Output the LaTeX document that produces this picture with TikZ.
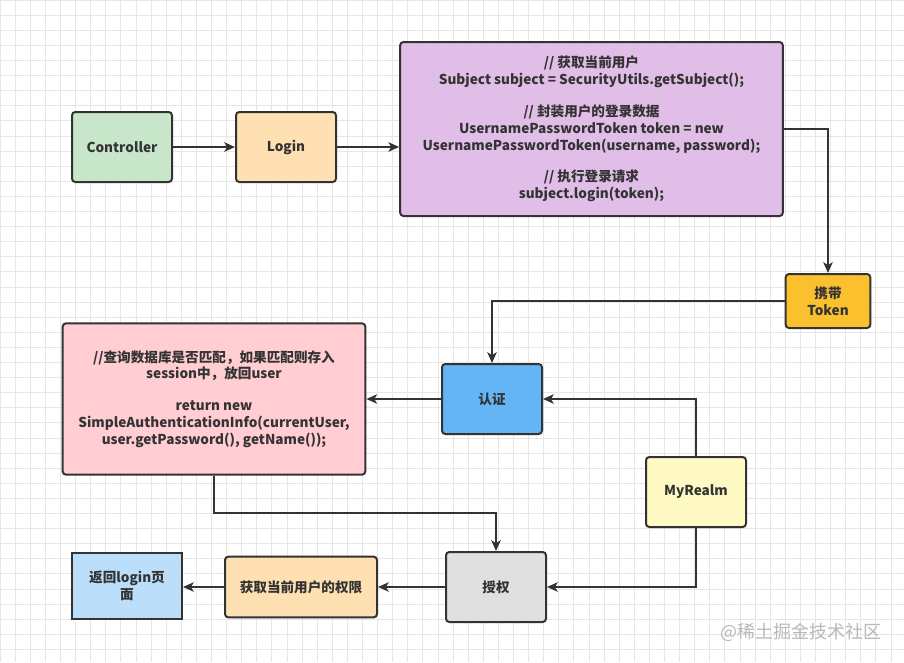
\documentclass[tikz,border=0pt]{standalone}
\usepackage{fontspec}
\setmainfont{Noto Sans CJK SC}
\usetikzlibrary{arrows.meta,calc}
\definecolor{ink}{HTML}{333333}
\definecolor{gridc}{HTML}{E6E6E6}
\definecolor{cgreen}{HTML}{C8E6C9}
\definecolor{corange}{HTML}{FFE0B2}
\definecolor{cpurple}{HTML}{E1BEE7}
\definecolor{cyellow}{HTML}{FBC02D}
\definecolor{cblue}{HTML}{64B5F6}
\definecolor{cpink}{HTML}{FFCDD2}
\definecolor{clight}{HTML}{FFF9C4}
\definecolor{cgray}{HTML}{E0E0E0}
\definecolor{cpale}{HTML}{BBDEFB}
\tikzset{
  box/.style={draw=ink, line width=1.5pt, rounded corners=2.5pt, text=ink,
    font=\fontsize{10.2}{12.6}\selectfont\bfseries, align=center, inner sep=0pt},
  conn/.style={draw=ink, line width=1.4pt, -{Stealth[length=8pt,width=7pt,inset=2pt]}},
}
\begin{document}
\begin{tikzpicture}[x=0.75pt,y=-0.75pt]
\useasboundingbox (0,0) rectangle (904,662);
\fill[white] (0,0) rectangle (904,662);
\foreach \i in {0,...,60} {\draw[gridc, line width=0.6pt] (\i*15.1,0) -- (\i*15.1,662);}
\foreach \j in {0,...,44} {\draw[gridc, line width=0.6pt] (0,\j*15.1) -- (904,\j*15.1);}

\node[box, fill=cgreen, minimum width=75pt, minimum height=52.5pt] (ctrl) at (122,147) {Controller};
\node[box, fill=corange, minimum width=75pt, minimum height=52.5pt] (login) at (286,147) {Login};
\node[box, fill=cpurple, minimum width=287pt, minimum height=130.5pt] (purple) at (591.5,129) {%
// 获取当前用户\\
Subject subject = SecurityUtils.getSubject();\\[11.2pt]
// 封装用户的登录数据\\
UsernamePasswordToken token = new\\
UsernamePasswordToken(username, password);\\[11.2pt]
// 执行登录请求\\
subject.login(token);};
\node[box, fill=cyellow, minimum width=63.5pt, minimum height=40.5pt] (token) at (828,301) {携带\\Token};
\node[box, fill=cblue, minimum width=75pt, minimum height=52.5pt] (auth) at (492,399) {认证};
\node[box, fill=cpink, minimum width=227pt, minimum height=113.5pt] (pink) at (214,399) {%
//查询数据库是否匹配，如果匹配则存入\\
session中，放回user\\[11.2pt]
return new\\
SimpleAuthenticationInfo(currentUser,\\
user.getPassword(), getName());};
\node[box, fill=clight, minimum width=75pt, minimum height=52.5pt] (realm) at (696,492) {MyRealm};
\node[box, fill=cgray, minimum width=75pt, minimum height=52.5pt] (sq) at (496,587) {授权};
\node[box, fill=corange, minimum width=114pt, minimum height=45.5pt] (perm) at (301,587) {获取当前用户的权限};
\node[box, fill=cpale, rounded corners=0pt, minimum width=82.5pt, minimum height=49pt] (ret) at (127,586) {返回login页\\面};

\coordinate (mid) at (0,513);

\draw[conn] (ctrl) -- (login);
\draw[conn] (login.east) -- (login.east -| purple.west);
\draw[conn] (purple.east) -| (token.north);
\draw[conn] (token.west) -| (auth.north);
\draw[conn] (realm.north) |- (auth.east);
\draw[conn] (auth.west) -- (auth.west -| pink.east);
\draw[conn] (pink.south) -- (pink.south |- mid) -| (sq.north);
\draw[conn] (realm.south) |- (sq.east);
\draw[conn] (sq) -- (perm);
\draw[conn] (perm.west) -- (perm.west -| ret.east);

\node[text=black!28, font=\fontsize{13.5}{15}\selectfont, anchor=east] (wm) at (886,632) {@稀土掘金技术社区};
\end{tikzpicture}
\end{document}
